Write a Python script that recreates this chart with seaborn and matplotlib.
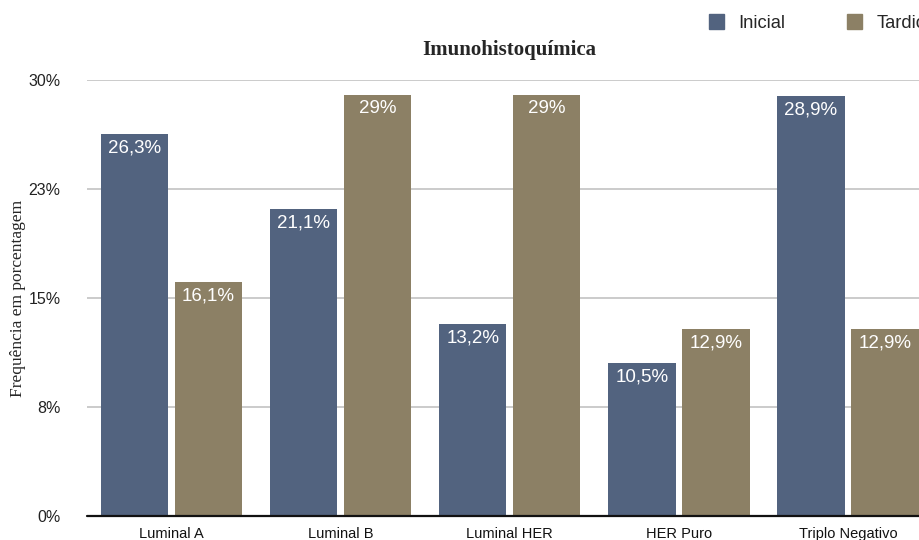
import matplotlib
matplotlib.use("Agg")
import matplotlib.pyplot as plt
import seaborn as sns
import pandas as pd

categorias = ["Luminal A", "Luminal B", "Luminal HER", "HER Puro", "Triplo Negativo"]
inicial = [26.3, 21.1, 13.2, 10.5, 28.9]
tardio = [16.1, 29.0, 29.0, 12.9, 12.9]
grupos = ["Inicial", "Tardio"]
yticks = [0, 7.5, 15, 22.5, 30]
ytick_labels = ["0%", "8%", "15%", "23%", "30%"]

cores = {"Inicial": "#52637f", "Tardio": "#8c8065"}

df = pd.DataFrame({
    "categoria": categorias * 2,
    "grupo": [grupos[0]] * len(categorias) + [grupos[1]] * len(categorias),
    "valor": inicial + tardio,
})

sns.set_style("white")
plt.rcParams["font.family"] = ["Liberation Sans", "DejaVu Sans"]

W, H = 919, 540
fig = plt.figure(figsize=(W / 100, H / 100), dpi=100)
ax = fig.add_axes([87 / W, (H - 516) / H, (W - 87) / W, 436 / H])

sns.barplot(data=df, x="categoria", y="valor", hue="grupo", order=categorias,
            hue_order=grupos, palette=cores, width=0.876, gap=0.09,
            errorbar=None, saturation=1, linewidth=0, ax=ax)

ax.set_xlim(-0.5, 4.42)
ax.set_ylim(0, 30)
ax.set_yticks(yticks)
ax.set_yticklabels(ytick_labels, fontsize=11.5, color="#222222")
ax.tick_params(axis="y", length=0, pad=19)
ax.tick_params(axis="x", length=0, pad=8, labelsize=10.5, labelcolor="#111111")
ax.set_xlabel("")
ax.set_ylabel("")
for y in yticks[1:]:
    ax.axhline(y, color="#bdbdbd", lw=1.1, zorder=0)
ax.axhline(0, color="#111111", lw=1.6, zorder=3, clip_on=False)
for s in ax.spines.values():
    s.set_visible(False)

# value labels inside the top of each bar
for cont, vals in zip(ax.containers, [inicial, tardio]):
    for patch, v in zip(cont.patches, vals):
        txt = f"{v:g}".replace(".", ",") + "%"
        ax.annotate(txt, (patch.get_x() + patch.get_width() / 2, v),
                    xytext=(0, -4), textcoords="offset points",
                    ha="center", va="top", color="white", fontsize=13.5,
                    zorder=4)

fig.text(509 / W, 1 - 50 / H, "Imunohistoquímica", ha="center", va="center",
         fontsize=15, fontweight="bold", family="Liberation Serif")
fig.text(18 / W, 1 - 298 / H, "Frequência em porcentagem", ha="center",
         va="center", rotation=90, fontsize=12.5, family="Liberation Serif")

ax.legend_.remove()
handles = [plt.Rectangle((0, 0), 1, 1, color=cores[g]) for g in grupos]
fig.legend(handles, grupos, loc="upper left", bbox_to_anchor=(709 / W, 1 - 14 / H),
           ncol=2, frameon=False, fontsize=13.2, handlelength=0.82,
           handleheight=0.87, handletextpad=0.76, columnspacing=3.4,
           borderpad=0, borderaxespad=0)

fig.savefig("out.png", dpi=100, facecolor="white")
